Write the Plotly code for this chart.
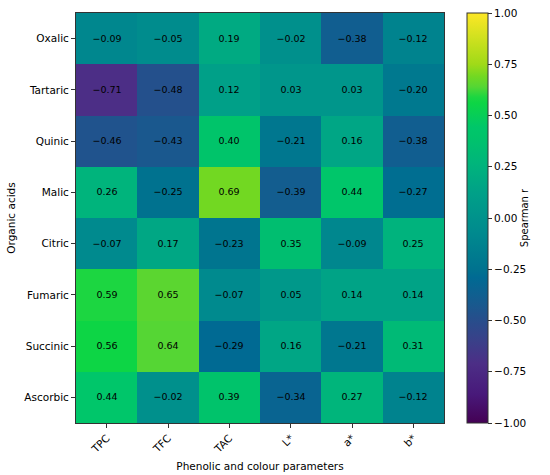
import plotly.graph_objects as go

# Spearman correlations: organic acids (rows) vs phenolic/colour parameters (cols)
params = ["TPC", "TFC", "TAC", "L*", "a*", "b*"]
acids = ["Oxalic", "Tartaric", "Quinic", "Malic", "Citric", "Fumaric", "Succinic", "Ascorbic"]

oxalic = [-0.09, -0.05, 0.19, -0.02, -0.38, -0.12]
tartaric = [-0.71, -0.48, 0.12, 0.03, 0.03, -0.20]
quinic = [-0.46, -0.43, 0.40, -0.21, 0.16, -0.38]
malic = [0.26, -0.25, 0.69, -0.39, 0.44, -0.27]
citric = [-0.07, 0.17, -0.23, 0.35, -0.09, 0.25]
fumaric = [0.59, 0.65, -0.07, 0.05, 0.14, 0.14]
succinic = [0.56, 0.64, -0.29, 0.16, -0.21, 0.31]
ascorbic = [0.44, -0.02, 0.39, -0.34, 0.27, -0.12]

cbar_ticks = [-1.0, -0.75, -0.5, -0.25, 0.0, 0.25, 0.5, 0.75, 1.0]

z = [oxalic, tartaric, quinic, malic, citric, fumaric, succinic, ascorbic]

# viridis-like scale, a bit more saturated as in the source image
cscale = [
    [0.0, "#440154"],
    [0.07, "#48197a"],
    [0.145, "#4c2e86"],
    [0.2, "#3a4089"],
    [0.26, "#24508c"],
    [0.285, "#1a588e"],
    [0.355, "#006a93"],
    [0.375, "#00728f"],
    [0.465, "#008a8e"],
    [0.56, "#00a088"],
    [0.63, "#00b47c"],
    [0.70, "#00c46a"],
    [0.72, "#00c66a"],
    [0.78, "#0dd545"],
    [0.795, "#1cd641"],
    [0.82, "#55d634"],
    [0.845, "#72d822"],
    [0.875, "#a0da18"],
    [1.0, "#fde725"],
]


def fmt(v):
    return f"{v:.2f}".replace("-", "\u2212")


text = [[fmt(v) for v in row] for row in z]

fig = go.Figure(
    go.Heatmap(
        z=z,
        x=params,
        y=acids,
        text=text,
        texttemplate="%{text}",
        textfont=dict(size=9.5, color="black"),
        colorscale=cscale,
        zmin=-1,
        zmax=1,
        colorbar=dict(
            x=1.0625,
            xanchor="left",
            y=0.5,
            yanchor="middle",
            len=1,
            thickness=21,
            xpad=0,
            ypad=0,
            outlinecolor="#333",
            outlinewidth=1,
            ticks="outside",
            ticklen=4,
            tickcolor="#333",
            tickvals=cbar_ticks,
            ticktext=[fmt(t) for t in cbar_ticks],
            tickfont=dict(size=10.5, color="black"),
            title=dict(text="Spearman r", side="right", font=dict(size=10, color="black")),
        ),
    )
)

fig.update_xaxes(
    title_text="Phenolic and colour parameters",
    title_font=dict(size=10.5),
    title_standoff=8,
    automargin=False,
    tickangle=-45,
    tickfont=dict(size=10.5),
    ticks="outside",
    ticklen=4,
    tickcolor="#333",
    showline=True,
    linecolor="#333",
    linewidth=1,
    mirror=True,
    showgrid=False,
    zeroline=False,
)
fig.update_yaxes(
    title_text="Organic acids",
    title_font=dict(size=10.5),
    title_standoff=6,
    automargin=False,
    autorange="reversed",
    tickfont=dict(size=10.5),
    ticks="outside",
    ticklen=4,
    tickcolor="#333",
    showline=True,
    linecolor="#333",
    linewidth=1,
    mirror=True,
    showgrid=False,
    zeroline=False,
)

fig.update_layout(
    width=550,
    height=475,
    margin=dict(l=76, r=106, t=13, b=52, autoexpand=False),
    plot_bgcolor="#FFF",
    paper_bgcolor="#FFF",
    font=dict(family="DejaVu Sans", size=10, color="black"),
)

# the page body has a default 8px margin; drop it so the figure fills the window
fig.write_html(
    "out.html",
    config={"displayModeBar": False},
    post_script="document.body.style.margin = '0';",
)
